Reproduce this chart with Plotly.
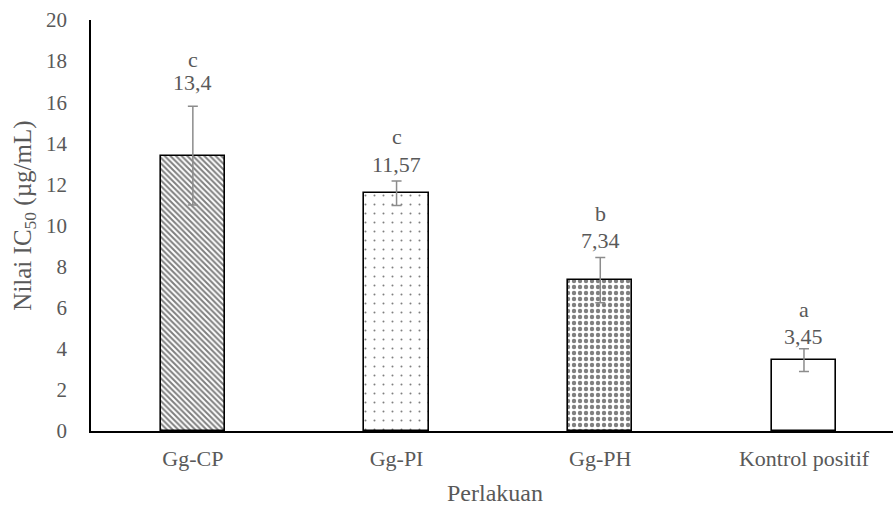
import plotly.graph_objects as go

# IC50 values per treatment
categories = ["Gg-CP", "Gg-PI", "Gg-PH", "Kontrol positif"]
ic50 = [13.4, 11.57, 7.34, 3.45]
sd = [2.4, 0.6, 1.1, 0.55]
value_labels = ["13,4", "11,57", "7,34", "3,45"]
letters = ["c", "c", "b", "a"]
y_ticks = [0, 2, 4, 6, 8, 10, 12, 14, 16, 18, 20]

FONT = "Liberation Serif"
TXT = "#595959"

patterns = [
    dict(shape="\\", size=4, solidity=0.5, fgcolor="black", bgcolor="white"),
    dict(shape=".", size=9, solidity=0.04, fgcolor="black", bgcolor="white"),
    dict(shape=".", size=6, solidity=0.42, fgcolor="black", bgcolor="white"),
    dict(shape="", fgcolor="black", bgcolor="white"),
]

x = list(range(len(categories)))

fig = go.Figure()
for i in x:
    fig.add_trace(go.Bar(
        x=[i], y=[ic50[i]],
        width=0.315,
        marker=dict(color="white", line=dict(color="black", width=1.6),
                    pattern=patterns[i]),
        error_y=dict(type="data", array=[sd[i]], color="#8c8c8c",
                     thickness=1.5, width=5),
        showlegend=False,
    ))

val_off = [24, 16, 17, 12]
let_off = [47, 44, 44, 39]
for i in x:
    top = ic50[i] + sd[i]
    fig.add_annotation(x=i, y=top, text=value_labels[i], showarrow=False,
                       yanchor="middle", yshift=val_off[i],
                       font=dict(family=FONT, size=22, color=TXT))
    fig.add_annotation(x=i, y=top, text=letters[i], showarrow=False,
                       yanchor="middle", yshift=let_off[i],
                       font=dict(family=FONT, size=22, color=TXT))

# axis titles, drawn as annotations
fig.add_annotation(
    xref="paper", yref="paper", x=-0.084, y=0.523,
    xanchor="center", yanchor="middle", textangle=-90,
    text="Nilai IC<sub>50</sub> (µg/mL)", showarrow=False,
    font=dict(family=FONT, size=25, color=TXT),
)
fig.add_annotation(
    xref="paper", yref="paper", x=0.504, y=-0.151,
    xanchor="center", yanchor="middle",
    text="Perlakuan", showarrow=False,
    font=dict(family=FONT, size=24, color=TXT),
)

fig.update_layout(
    width=893, height=511,
    margin=dict(l=91, r=0, t=20, b=80),
    paper_bgcolor="white", plot_bgcolor="white",
    font=dict(family=FONT, size=19, color=TXT),
    xaxis=dict(
        tickvals=x, ticktext=categories, range=[-0.5, 3.437],
        showline=True, linecolor="black", linewidth=1.5,
        showgrid=False, zeroline=False, ticks="",
        ticklabelstandoff=7,
        tickfont=dict(family=FONT, size=22, color=TXT),
    ),
    yaxis=dict(
        range=[0, 20], tickvals=y_ticks,
        showline=True, linecolor="black", linewidth=1.5,
        showgrid=False, zeroline=False, ticks="",
        ticklabelstandoff=18,
        tickfont=dict(family=FONT, size=21, color=TXT),
    ),
    bargap=0,
)

fig.write_html("out.html")
